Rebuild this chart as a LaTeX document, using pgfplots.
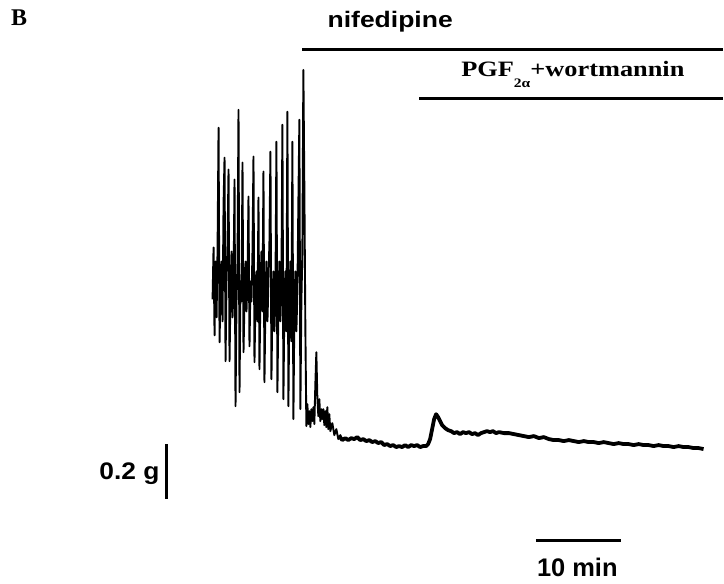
\documentclass[border=0pt]{standalone}
\usepackage{pgfplots}
\pgfplotsset{compat=1.18}
\usepackage{graphicx}
\usepackage{fontspec}
\setmainfont{Liberation Serif}
\newfontfamily\arial{Liberation Sans}
\begin{document}
\begin{tikzpicture}
\begin{axis}[
  at={(0,0)}, anchor=south west,
  scale only axis, width=724bp, height=585bp,
  xmin=0, xmax=724, ymin=0, ymax=585, y dir=reverse,
  hide axis, clip=false,
]
\path (axis cs:0,0) rectangle (axis cs:724,585);
% oscillating trace
\addplot[black, line width=1.9bp, line join=round] coordinates {
(213,300)(214,248)(215,336)(216,262)(217,318)(218,250)(219,128)(220,343)(221,288)(222,262)(223,322)(224,205)(225,158)(226,362)(227,282)(228,244)(229,170)(230,362)(231,292)(232,252)(233,318)(234,288)(235,180)(236,407)(237,302)(238,262)(239,110)(240,393)(241,282)(242,302)(243,163)(244,353)(245,302)(246,262)(247,312)(248,278)(249,197)(250,347)(251,282)(252,302)(253,252)(254,157)(255,363)(256,302)(257,272)(258,322)(259,198)(260,370)(261,292)(262,252)(263,312)(264,172)(265,383)(266,302)(267,262)(268,322)(269,282)(270,242)(271,152)(272,380)(273,302)(274,272)(275,332)(276,292)(277,142)(278,393)(279,302)(280,262)(281,322)(282,282)(283,125)(284,400)(285,302)(286,272)(287,332)(288,112)(289,407)(290,302)(291,262)(292,342)(293,142)(294,420)(295,312)(296,272)(297,332)(298,292)(299,202)(300,120)(301,410)(302,302)(303,252)(304,70)(305,190)(306,330)(307,427)(308,405)(309,425)(310,412)(311,428)(312,410)(313,422)(314,408)(315,425)(316,385)(317,353)(318,398)(319,417)(320,400)(321,422)(322,410)(323,420)(324,410)(325,426)(326,412)(327,428)(328,408)(329,430)(330,415)(331,432)(333,424)(335,436)(337,430)(339,440)(341,436)(343,441)
};
% baseline trace
\addplot[black, line width=3.8bp, line join=round] coordinates {
(340,437)(343,441)(346,439)(349,441)(352,439)(355,440)(358,438)(361,441)(364,440)(367,442)(370,441)(373,443)(376,442)(379,444)(382,443)(385,446)(388,445)(391,447)(394,446)(397,448)(400,447)(403,448)(406,446)(409,448)(412,446)(415,447)(418,446)(421,448)(424,447)(427,447)(429,445)(431,440)(433,430)(435,420)(437,415)(439,418)(441,422)(443,426)(446,429)(449,431)(452,432)(455,434)(458,433)(461,435)(464,433)(467,434)(470,433)(473,435)(476,434)(479,436)(482,434)(485,433)(488,432)(491,433)(494,432)(497,434)(500,433)(505,434)(510,434)(515,435)(520,436)(525,437)(530,438)(535,437)(540,439)(545,438)(550,440)(555,441)(560,441)(565,442)(570,441)(575,442)(580,443)(585,442)(590,443)(595,443)(600,444)(605,443)(610,444)(615,445)(620,444)(625,445)(630,445)(635,446)(640,445)(645,446)(650,446)(655,447)(660,446)(665,447)(670,447)(675,448)(680,447)(685,448)(690,448)(695,449)(700,449)(705,450)
};
% treatment bars
\addplot[black, line width=3bp] coordinates {(303,50)(724,50)};
\addplot[black, line width=3bp] coordinates {(420,99)(724,99)};
% scale bars
\addplot[black, line width=3bp] coordinates {(167,445)(167,500)};
\addplot[black, line width=3bp] coordinates {(537,542)(622,542)};
% labels
\node[anchor=base west, inner sep=0pt] at (axis cs:11,26) {\fontsize{24bp}{24bp}\selectfont\bfseries B};
\node[anchor=base, inner sep=0pt] at (axis cs:391,28) {\scalebox{1.18}[1]{\arial\fontsize{22.5bp}{22.5bp}\selectfont\bfseries nifedipine}};
\node[anchor=base west, inner sep=0pt] at (axis cs:462,77) {\scalebox{1.2}[1]{\fontsize{22bp}{22bp}\selectfont\bfseries PGF\raisebox{-11bp}{\fontsize{13bp}{13bp}\selectfont 2α}+wortmannin}};
\node[anchor=base east, inner sep=0pt] at (axis cs:160,480) {\scalebox{1.1}[1]{\arial\fontsize{24bp}{24bp}\selectfont\bfseries 0.2 g}};
\node[anchor=base, inner sep=0pt] at (axis cs:578.5,578) {\arial\fontsize{25.5bp}{25.5bp}\selectfont\bfseries 10 min};
\end{axis}
\end{tikzpicture}
\end{document}
